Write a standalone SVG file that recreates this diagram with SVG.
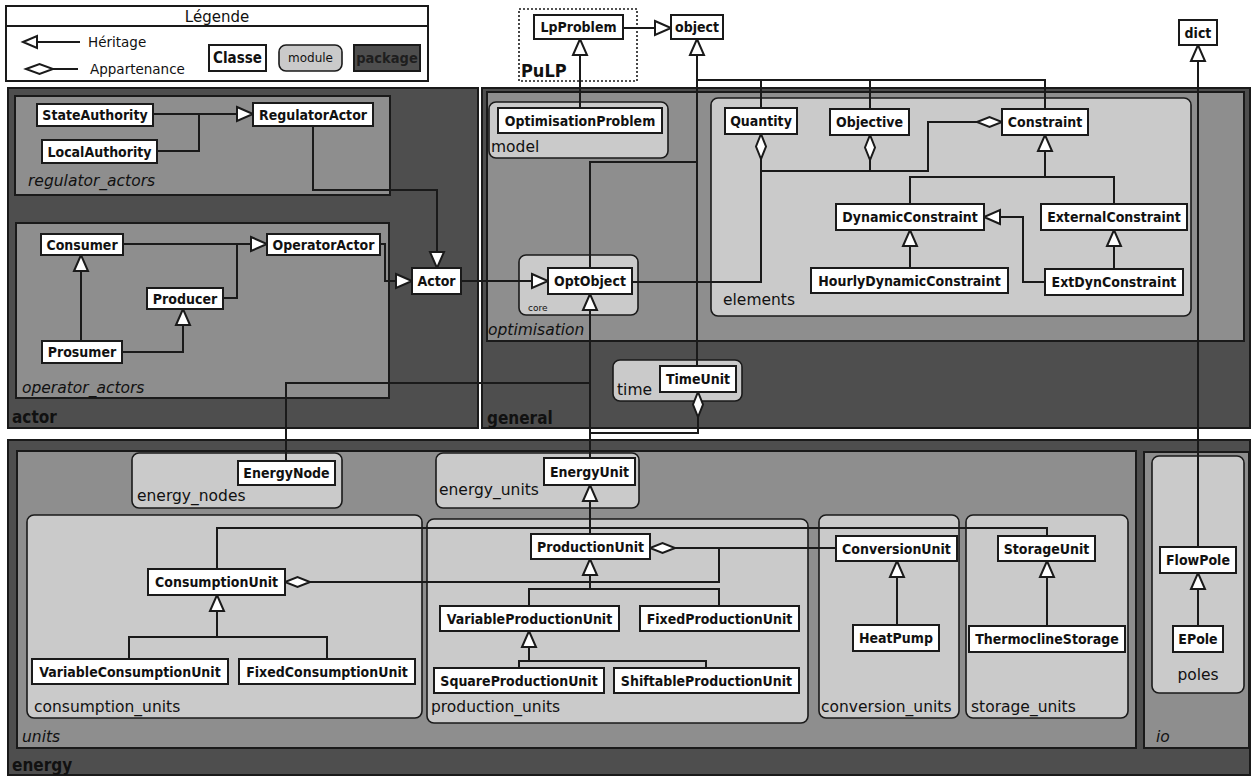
<svg xmlns="http://www.w3.org/2000/svg" width="1253" height="776" viewBox="0 0 1253 776">
<style>
.pkg{fill:#4e4e4e;stroke:#1a1a1a;stroke-width:2}
.sub{fill:#8e8e8e;stroke:#1a1a1a;stroke-width:2}
.mod{fill:#cacaca;stroke:#1a1a1a;stroke-width:1.6}
.cls{fill:#fff;stroke:#1a1a1a;stroke-width:2}
.cn{font-family:"DejaVu Sans Condensed","DejaVu Sans",sans-serif;font-weight:bold;font-size:14px;text-anchor:middle;fill:#111}
.ml{font-family:"DejaVu Sans","DejaVu Sans Condensed",sans-serif;font-size:15.5px;fill:#111}
.it{font-family:"DejaVu Sans","DejaVu Sans Condensed",sans-serif;font-size:15.5px;font-style:italic;fill:#111}
.pl{font-family:"DejaVu Sans Condensed","DejaVu Sans",sans-serif;font-size:17px;font-weight:bold;fill:#111}
.e{fill:none;stroke:#1a1a1a;stroke-width:2}
.g{marker-end:url(#tri)}
.a{marker-end:url(#dia)}
</style>
<defs>
<marker id="tri" markerUnits="userSpaceOnUse" markerWidth="18" markerHeight="18" viewBox="0 0 18 18" refX="16" refY="8" orient="auto" overflow="visible"><path d="M0,1 L16,8 L0,15 Z" fill="#fff" stroke="#1a1a1a" stroke-width="2"/></marker>
<marker id="dia" markerUnits="userSpaceOnUse" markerWidth="26" markerHeight="12" viewBox="0 0 26 12" refX="25" refY="5" orient="auto" overflow="visible"><path d="M0,5 L12.5,0 L25,5 L12.5,10 Z" fill="#fff" stroke="#1a1a1a" stroke-width="2"/></marker>
</defs>
<rect width="1253" height="776" fill="#fff"/>

<g id="legend">
<rect x="6" y="6" width="422" height="75" fill="#fff" stroke="#1a1a1a" stroke-width="2"/>
<line x1="6" y1="26" x2="428" y2="26" stroke="#1a1a1a" stroke-width="2"/>
<text x="217" y="22" class="ml" text-anchor="middle" style="font-size:15px">Légende</text>
<path d="M80,42 H37" class="e"/>
<path d="M23,42 L37,36 L37,48 Z" fill="#fff" stroke="#1a1a1a" stroke-width="2"/>
<text x="88" y="47" class="ml" style="font-size:13.5px">Héritage</text>
<path d="M53,69 H78" class="e"/>
<path d="M26,69 L39.5,64 L53,69 L39.5,74 Z" fill="#fff" stroke="#1a1a1a" stroke-width="2"/>
<text x="90" y="74" class="ml" style="font-size:13.5px">Appartenance</text>
<rect x="209" y="45" width="57" height="26" class="cls"/>
<text x="237.5" y="63" class="cn" style="font-size:15px">Classe</text>
<rect x="279" y="45" width="63" height="26" rx="7" class="mod"/>
<text x="310.5" y="62" class="ml" text-anchor="middle" style="font-size:12px">module</text>
<rect x="354" y="45" width="66" height="26" class="pkg"/>
<text x="387" y="63" class="cn" style="fill:#1e1e1e;font-size:14.5px">package</text>
</g>

<g id="pkg-pulp">
<rect x="519" y="9" width="118" height="72" fill="none" stroke="#1a1a1a" stroke-width="1.6" stroke-dasharray="2,2"/>
<text x="521" y="77" class="pl" style="font-size:18px">PuLP</text>
</g>
<g id="pkg-actor">
<rect x="8" y="88" width="470" height="340" class="pkg"/>
<text x="12" y="423" class="pl">actor</text>
</g>
<g id="mod-regulator_actors">
<rect x="15" y="96" width="375" height="99" class="sub"/>
<text x="28" y="186" class="it">regulator_actors</text>
</g>
<g id="mod-operator_actors">
<rect x="16" y="223" width="373" height="175" class="sub"/>
<text x="22" y="393" class="it">operator_actors</text>
</g>
<g id="pkg-general">
<rect x="482" y="88" width="768" height="340" class="pkg"/>
<text x="487" y="424" class="pl">general</text>
</g>
<g id="pkg-optimisation">
<rect x="487" y="92" width="757" height="249" class="sub"/>
<text x="488" y="335" class="it">optimisation</text>
</g>
<g id="mod-model">
<rect x="489" y="102" width="179" height="56" rx="7" class="mod"/>
<text x="491" y="152" class="ml">model</text>
</g>
<g id="mod-elements">
<rect x="711" y="98" width="480" height="218" rx="7" class="mod"/>
<text x="723" y="305" class="ml">elements</text>
</g>
<g id="mod-core">
<rect x="519" y="255" width="119" height="60" rx="7" class="mod"/>
<text x="528" y="311" class="ml" style="font-size:9px">core</text>
</g>
<g id="mod-time">
<rect x="613" y="360" width="129" height="41" rx="7" class="mod"/>
<text x="617" y="395" class="ml">time</text>
</g>
<g id="pkg-energy">
<rect x="8" y="440" width="1242" height="335" class="pkg"/>
<text x="12" y="771" class="pl">energy</text>
</g>
<g id="pkg-units">
<rect x="17" y="451" width="1119" height="297" class="sub"/>
<text x="22" y="742" class="it">units</text>
</g>
<g id="pkg-io">
<rect x="1144" y="452" width="105" height="296" class="sub"/>
<text x="1156" y="742" class="it">io</text>
</g>
<g id="mod-poles">
<rect x="1152" y="456" width="92" height="237" rx="7" class="mod"/>
<text x="1198" y="680" class="ml" text-anchor="middle">poles</text>
</g>
<g id="mod-energy_nodes">
<rect x="132" y="453" width="210" height="55" rx="7" class="mod"/>
<text x="137" y="501" class="ml">energy_nodes</text>
</g>
<g id="mod-energy_units">
<rect x="436" y="453" width="203" height="55" rx="7" class="mod"/>
<text x="439" y="495" class="ml">energy_units</text>
</g>
<g id="mod-consumption_units">
<rect x="27" y="515" width="395" height="203" rx="7" class="mod"/>
<text x="34" y="712" class="ml">consumption_units</text>
</g>
<g id="mod-production_units">
<rect x="427" y="519" width="381" height="204" rx="7" class="mod"/>
<text x="431" y="712" class="ml">production_units</text>
</g>
<g id="mod-conversion_units">
<rect x="819" y="515" width="140" height="203" rx="7" class="mod"/>
<text x="821" y="712" class="ml">conversion_units</text>
</g>
<g id="mod-storage_units">
<rect x="966" y="515" width="162" height="203" rx="7" class="mod"/>
<text x="971" y="712" class="ml">storage_units</text>
</g>

<g id="connectors">
<path class="e g" d="M623,28 H671"/>
<path class="e g" d="M580,108 V39"/>
<path class="e g" d="M590,268 V162 H697 V39"/>
<path class="e" d="M697,366 V162"/>
<path class="e" d="M1045,109 V80 H697"/>
<path class="e" d="M761,108 V80"/>
<path class="e" d="M870,109 V80"/>
<path class="e g" d="M153,114 H253"/>
<path class="e" d="M157,151 H199 V114"/>
<path class="e g" d="M313,126 V190 H437 V268"/>
<path class="e g" d="M123,244 H267"/>
<path class="e" d="M223,298 H237 V244"/>
<path class="e g" d="M81,341 V255"/>
<path class="e g" d="M122,352 H183 V309"/>
<path class="e g" d="M380,244 H385 V281 H412"/>
<path class="e g" d="M461,281 H548"/>
<path class="e g" d="M590,458 V294"/>
<path class="e" d="M286,461 V383 H590"/>
<path class="e g" d="M910,268 V230"/>
<path class="e g" d="M1114,269 V230"/>
<path class="e g" d="M1045,282 H1023 V217 H984"/>
<path class="e" d="M910,204 V177 H1114 V204"/>
<path class="e g" d="M1045,177 V135"/>
<path class="e a" d="M632,282 H761 V134"/>
<path class="e a" d="M761,171 H870 V135"/>
<path class="e a" d="M870,171 H928 V122 H1002"/>
<path class="e a" d="M590,433 H698 V392"/>
<path class="e g" d="M590,534 V485"/>
<path class="e" d="M217,569 V528 H1047 V536"/>
<path class="e" d="M129,659 V637 H327 V659"/>
<path class="e g" d="M217,637 V595"/>
<path class="e" d="M529,606 V589 H719 V606"/>
<path class="e g" d="M590,589 V559"/>
<path class="e" d="M519,668 V661 H706 V668"/>
<path class="e g" d="M529,661 V631"/>
<path class="e g" d="M897,625 V561"/>
<path class="e g" d="M1047,626 V561"/>
<path class="e g" d="M1198,626 V573"/>
<path class="e g" d="M1198,547 V45"/>
<path class="e a" d="M836,548 H650"/>
<path class="e a" d="M719,548 V582 H285"/>
</g>

<g id="LpProblem"><rect x="534" y="15" width="89" height="24" class="cls"/><text x="578.5" y="32" class="cn">LpProblem</text></g>
<g id="object"><rect x="671" y="15" width="52" height="24" class="cls"/><text x="697" y="32" class="cn">object</text></g>
<g id="dict"><rect x="1179" y="20" width="38" height="25" class="cls"/><text x="1198" y="37.5" class="cn">dict</text></g>
<g id="StateAuthority"><rect x="37" y="104" width="116" height="22" class="cls"/><text x="95" y="120" class="cn">StateAuthority</text></g>
<g id="LocalAuthority"><rect x="42" y="140" width="115" height="23" class="cls"/><text x="99.5" y="156.5" class="cn">LocalAuthority</text></g>
<g id="RegulatorActor"><rect x="253" y="103" width="120" height="23" class="cls"/><text x="313" y="119.5" class="cn">RegulatorActor</text></g>
<g id="Consumer"><rect x="41" y="234" width="82" height="21" class="cls"/><text x="82" y="249.5" class="cn">Consumer</text></g>
<g id="OperatorActor"><rect x="267" y="234" width="113" height="21" class="cls"/><text x="323.5" y="249.5" class="cn">OperatorActor</text></g>
<g id="Producer"><rect x="147" y="288" width="76" height="21" class="cls"/><text x="185" y="303.5" class="cn">Producer</text></g>
<g id="Prosumer"><rect x="42" y="341" width="80" height="22" class="cls"/><text x="82" y="357" class="cn">Prosumer</text></g>
<g id="Actor"><rect x="412" y="268" width="49" height="26" class="cls"/><text x="436.5" y="286" class="cn">Actor</text></g>
<g id="OptimisationProblem"><rect x="498" y="108" width="164" height="25" class="cls"/><text x="580" y="125.5" class="cn">OptimisationProblem</text></g>
<g id="Quantity"><rect x="725" y="108" width="72" height="26" class="cls"/><text x="761" y="126" class="cn">Quantity</text></g>
<g id="Objective"><rect x="830" y="109" width="79" height="26" class="cls"/><text x="869.5" y="127" class="cn">Objective</text></g>
<g id="Constraint"><rect x="1002" y="109" width="86" height="26" class="cls"/><text x="1045" y="127" class="cn">Constraint</text></g>
<g id="DynamicConstraint"><rect x="836" y="204" width="148" height="26" class="cls"/><text x="910" y="222" class="cn">DynamicConstraint</text></g>
<g id="ExternalConstraint"><rect x="1041" y="204" width="146" height="26" class="cls"/><text x="1114" y="222" class="cn">ExternalConstraint</text></g>
<g id="HourlyDynamicConstraint"><rect x="811" y="268" width="197" height="25" class="cls"/><text x="909.5" y="285.5" class="cn">HourlyDynamicConstraint</text></g>
<g id="ExtDynConstraint"><rect x="1045" y="269" width="138" height="26" class="cls"/><text x="1114" y="287" class="cn">ExtDynConstraint</text></g>
<g id="OptObject"><rect x="548" y="268" width="84" height="26" class="cls"/><text x="590" y="286" class="cn">OptObject</text></g>
<g id="TimeUnit"><rect x="660" y="366" width="76" height="26" class="cls"/><text x="698" y="384" class="cn">TimeUnit</text></g>
<g id="EnergyNode"><rect x="238" y="461" width="97" height="24" class="cls"/><text x="286.5" y="478" class="cn">EnergyNode</text></g>
<g id="EnergyUnit"><rect x="544" y="458" width="91" height="27" class="cls"/><text x="589.5" y="476.5" class="cn">EnergyUnit</text></g>
<g id="ConsumptionUnit"><rect x="148" y="569" width="137" height="26" class="cls"/><text x="216.5" y="587" class="cn">ConsumptionUnit</text></g>
<g id="VariableConsumptionUnit"><rect x="32" y="659" width="196" height="25" class="cls"/><text x="130" y="676.5" class="cn">VariableConsumptionUnit</text></g>
<g id="FixedConsumptionUnit"><rect x="239" y="659" width="176" height="25" class="cls"/><text x="327" y="676.5" class="cn">FixedConsumptionUnit</text></g>
<g id="ProductionUnit"><rect x="531" y="534" width="119" height="25" class="cls"/><text x="590.5" y="551.5" class="cn">ProductionUnit</text></g>
<g id="VariableProductionUnit"><rect x="440" y="606" width="179" height="25" class="cls"/><text x="529.5" y="623.5" class="cn">VariableProductionUnit</text></g>
<g id="FixedProductionUnit"><rect x="640" y="606" width="159" height="25" class="cls"/><text x="719.5" y="623.5" class="cn">FixedProductionUnit</text></g>
<g id="SquareProductionUnit"><rect x="434" y="668" width="170" height="25" class="cls"/><text x="519" y="685.5" class="cn">SquareProductionUnit</text></g>
<g id="ShiftableProductionUnit"><rect x="614" y="668" width="185" height="25" class="cls"/><text x="706.5" y="685.5" class="cn">ShiftableProductionUnit</text></g>
<g id="ConversionUnit"><rect x="836" y="536" width="121" height="25" class="cls"/><text x="896.5" y="553.5" class="cn">ConversionUnit</text></g>
<g id="HeatPump"><rect x="853" y="625" width="86" height="26" class="cls"/><text x="896" y="643" class="cn">HeatPump</text></g>
<g id="StorageUnit"><rect x="998" y="536" width="97" height="25" class="cls"/><text x="1046.5" y="553.5" class="cn">StorageUnit</text></g>
<g id="ThermoclineStorage"><rect x="969" y="626" width="156" height="26" class="cls"/><text x="1047" y="644" class="cn">ThermoclineStorage</text></g>
<g id="FlowPole"><rect x="1160" y="547" width="76" height="26" class="cls"/><text x="1198" y="565" class="cn">FlowPole</text></g>
<g id="EPole"><rect x="1173" y="626" width="50" height="26" class="cls"/><text x="1198" y="644" class="cn">EPole</text></g>
</svg>
